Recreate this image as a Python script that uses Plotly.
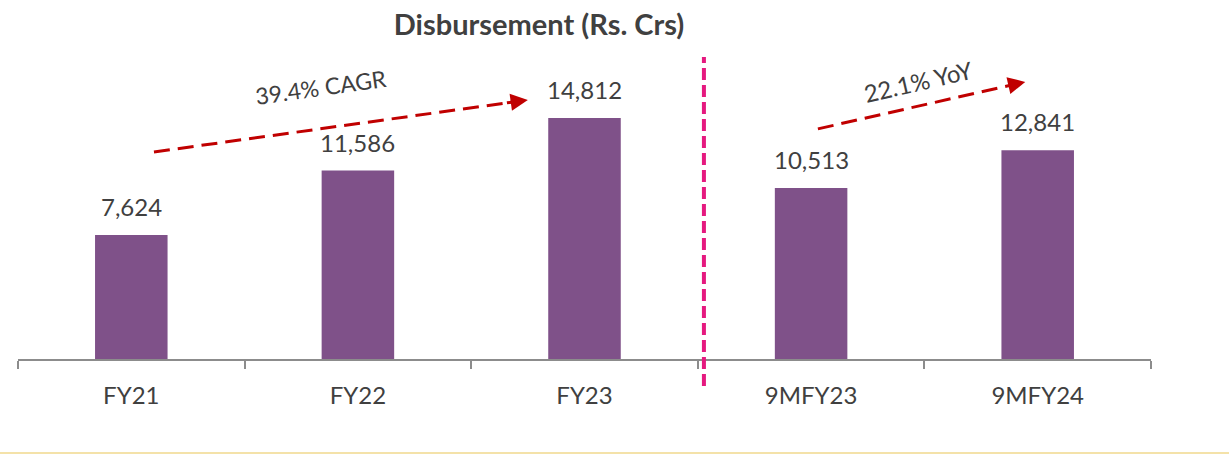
import plotly.graph_objects as go

# Disbursement by period (Rs. Crs)
periods = ["FY21", "FY22", "FY23", "9MFY23", "9MFY24"]
disbursement = [7624, 11586, 14812, 10513, 12841]

growth_labels = ["39.4% CAGR", "22.1% YoY"]

BAR_COLOR = "#7f5189"
TEXT_COLOR = "#404040"
FONT = "Lato"

fig = go.Figure()

fig.add_trace(go.Bar(
    x=periods,
    y=disbursement,
    marker=dict(color=BAR_COLOR, line=dict(width=0)),
    width=0.32,
))

# Value labels above each bar
for p, v in zip(periods, disbursement):
    fig.add_annotation(x=p, y=v, xref="x", yref="y", text=f"{v:,}",
                       showarrow=False, yanchor="bottom", yshift=12,
                       font=dict(family=FONT, size=24, color=TEXT_COLOR))

# Growth arrows: dashed shaft as a shape, arrowhead as an annotation
arrows = [
    # (x0, y0, x1, y1)
    (0.10, 12730, 1.75, 15930),
    (3.03, 14150, 3.945, 17040),
]
for x0, y0, x1, y1 in arrows:
    fig.add_shape(type="line", xref="x", yref="y",
                  x0=x0, y0=y0, x1=x1 - (x1 - x0) * 0.035, y1=y1 - (y1 - y0) * 0.035,
                  line=dict(color="#c00000", width=3, dash="16px,8px"))
    fig.add_annotation(x=x1, y=y1, xref="x", yref="y",
                       ax=x1 - (x1 - x0) * 0.06, ay=y1 - (y1 - y0) * 0.06,
                       axref="x", ayref="y", showarrow=True, arrowhead=2,
                       arrowsize=1.15, arrowwidth=3, arrowcolor="#c00000", text="")

fig.add_annotation(x=0.835, y=16700, xref="x", yref="y", text=growth_labels[0],
                   showarrow=False, textangle=-8,
                   font=dict(family=FONT, size=23, color=TEXT_COLOR))
fig.add_annotation(x=3.47, y=17050, xref="x", yref="y", text=growth_labels[1],
                   showarrow=False, textangle=-13,
                   font=dict(family=FONT, size=24, color=TEXT_COLOR))

# Divider between full-year and nine-month periods
fig.add_shape(type="line", xref="x", yref="paper",
              x0=2.527, x1=2.527, y0=-0.087, y1=0.977,
              line=dict(color="#e5197f", width=4, dash="12px,5px"))

# Thin rule along the page bottom
fig.add_shape(type="line", xref="paper", yref="paper",
              x0=-0.02, x1=1.1, y0=-0.3045, y1=-0.3045,
              line=dict(color="#f0d98c", width=1.5))

fig.update_layout(
    width=1229, height=454,
    margin=dict(l=18, r=78, t=50, b=95),
    paper_bgcolor="white", plot_bgcolor="white",
    showlegend=False,
    title=dict(text="<b>Disbursement (Rs. Crs)</b>", x=0.4386, xref="container",
               xanchor="center", y=0.945, yref="container", yanchor="middle",
               font=dict(family=FONT, size=29, color=TEXT_COLOR)),
    xaxis=dict(showline=True, linecolor="#8c8c8c", linewidth=1.5,
               ticks="outside", ticklen=8, tickcolor="#8c8c8c", tickwidth=1.5,
               tickson="boundaries", showgrid=False, ticklabelstandoff=14,
               tickfont=dict(family=FONT, size=24, color=TEXT_COLOR)),
    yaxis=dict(range=[0, 19000], visible=False, showgrid=False, zeroline=False),
)

fig.write_html("out.html")
